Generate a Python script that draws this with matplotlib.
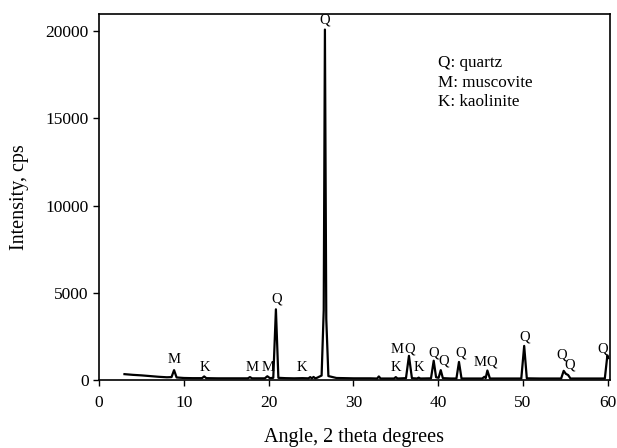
import matplotlib.pyplot as plt

plt.rcParams['font.family'] = ['Liberation Serif', 'DejaVu Serif']

# XRD trace (2 theta, cps)
two_theta = [3.0, 4.0, 5.0, 6.0, 7.0, 8.0, 8.55, 8.85, 9.15, 10.0, 11.0,
             12.15, 12.4, 12.65, 14.0, 16.0, 17.55, 17.8, 18.05, 19.55, 19.85,
             20.15, 20.55, 20.86, 21.15, 22.0, 23.0, 24.0, 24.7, 24.9, 25.1,
             25.3, 25.5, 25.7, 26.25, 26.5, 26.64, 26.8, 27.05, 28.0, 30.0,
             32.0, 32.8, 33.0, 33.2, 34.0, 34.8, 35.0, 35.2, 36.2, 36.55,
             36.9, 37.5, 37.7, 37.9, 39.15, 39.47, 39.75, 40.05, 40.3, 40.55,
             41.5, 42.15, 42.45, 42.75, 45.2, 45.45, 45.6, 45.8, 46.1, 48.0,
             49.8, 50.14, 50.45, 52.0, 54.5, 54.8, 55.05, 55.32, 55.6, 57.0,
             59.65, 59.95, 60.05]
intensity = [330, 290, 260, 220, 180, 150, 160, 560, 140, 110, 100,
             100, 200, 100, 90, 90, 90, 160, 90, 90, 210,
             100, 120, 4050, 120, 100, 90, 100, 90, 160, 90,
             170, 90, 120, 250, 4000, 20100, 3500, 220, 110, 90,
             90, 80, 200, 80, 80, 80, 160, 80, 100, 1380,
             100, 80, 130, 80, 90, 1100, 150, 120, 560, 100,
             80, 80, 1030, 80, 80, 180, 100, 540, 80, 80,
             80, 1950, 90, 80, 80, 520, 350, 280, 80, 80,
             80, 1400, 1250]

# peak annotations (label, 2 theta, height)
peak_labels = ['M', 'K', 'M', 'M', 'Q', 'K', 'Q', 'M', 'Q', 'K', 'K',
               'Q', 'Q', 'Q', 'M', 'Q', 'Q', 'Q', 'Q', 'Q']
label_x = [8.8, 12.5, 18.0, 19.9, 20.9, 23.9, 26.6, 35.2, 36.6, 35.0, 37.7,
           39.5, 40.6, 42.6, 45.0, 46.3, 50.2, 54.6, 55.45, 59.4]
label_y = [1150, 730, 730, 730, 4650, 730, 20650, 1720, 1800, 730, 730,
           1550, 1100, 1550, 990, 1050, 2460, 1450, 850, 1800]

legend_lines = ['Q: quartz', 'M: muscovite', 'K: kaolinite']

fig = plt.figure(figsize=(6.17, 4.48), dpi=100)
ax = fig.add_axes([0.1605, 0.152, 0.828, 0.817])

ax.plot(two_theta, intensity, color='black', lw=1.6)

for lab, x, y in zip(peak_labels, label_x, label_y):
    ax.text(x, y, lab, ha='center', va='center', fontsize=10.5)

for i, line in enumerate(legend_lines):
    ax.text(0.663, 0.865 - i * 0.0525, line, transform=ax.transAxes,
            ha='left', va='center', fontsize=12.3)

ax.set_xlim(0, 60.25)
ax.set_ylim(0, 21000)
ax.set_xticks([0, 10, 20, 30, 40, 50, 60])
ax.set_yticks([0, 5000, 10000, 15000, 20000])
ax.tick_params(direction='out', length=4, labelsize=12.5, width=1)
ax.tick_params(axis='x', pad=7)
for s in ax.spines.values():
    s.set_linewidth(1.2)

ax.set_xlabel('Angle, 2 theta degrees', fontsize=14.5, labelpad=12)
ax.set_ylabel('Intensity, cps', fontsize=14.5, labelpad=12)

fig.savefig('out.png', dpi=100)
